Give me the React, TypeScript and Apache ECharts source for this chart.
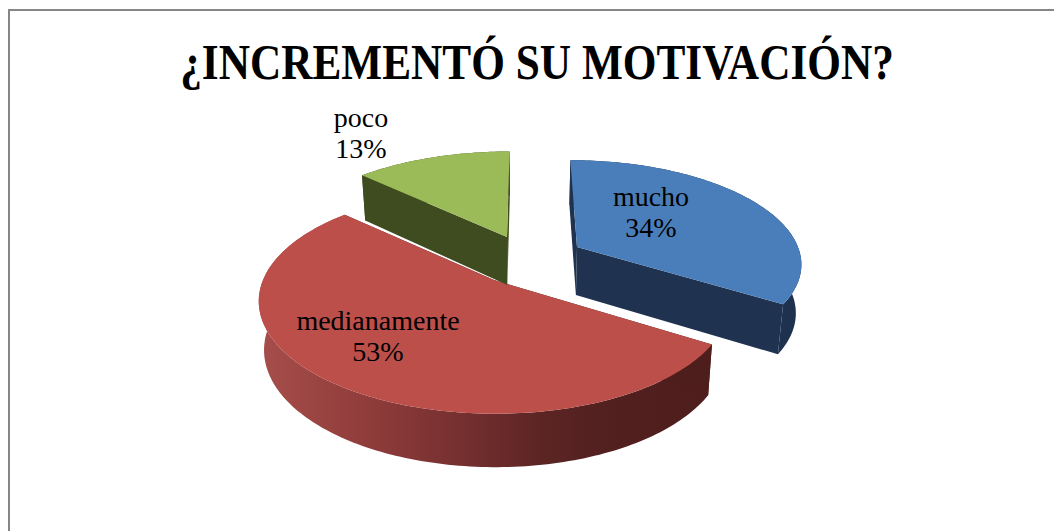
import React, { useEffect, useRef } from "react";
import * as echarts from "echarts";

const categories = ["mucho", "medianamente", "poco"];
const values = [34, 53, 13];
const titleText = "¿INCREMENTÓ SU MOTIVACIÓN?";

// Per-slice drawing parameters: exploded apex position, projected radii, perspective, colours
const sliceStyles = [
  { ax: 577, ay: 247, A: 221, B: 99, K: 0.14, VX: 523, top: "#4a7ebb", wall: "#1f3350", outer: "#1e3250", lx: 651, ly: 212 },
  { ax: 494, ay: 280, A: 231, B: 108, K: 0.1925, VX: 490, top: "#bd4f4b", wall: "#4e1e1d", outer: null, lx: 378, ly: 336 },
  { ax: 507, ay: 237, A: 228, B: 102, K: 0.1925, VX: 523, top: "#9bbb59", wall: "#3f4c1f", outer: "#3f4c1f", lx: 361, ly: 133 },
];
const CENTER_X = 523; // lower rim contracts toward this x
const DEPTH = 48; // wall height
const SHRINK = 0.98; // lower rim contraction

const total = values.reduce((a, b) => a + b, 0);

function renderSlice(params: any, api: any) {
  const i = params.dataIndex;
  const st = sliceStyles[i];
  let before = 0;
  for (let j = 0; j < i; j++) before += api.value(1, j);
  const value = api.value(1);
  const t0 = (before / total) * Math.PI * 2;
  const t1 = ((before + value) / total) * Math.PI * 2;

  const proj = (u: number, v: number) => {
    const s = 1 / (1 + st.K * v);
    return [st.VX + (st.ax - st.VX + st.A * u) * s, st.ay - st.B * v * s, s];
  };
  const topPt = (u: number, v: number) => {
    const p = proj(u, v);
    return [p[0], p[1]];
  };
  const botPt = (u: number, v: number) => {
    const p = proj(u, v);
    return [CENTER_X + (p[0] - CENTER_X) * SHRINK, p[1] + DEPTH * Math.sqrt(p[2])];
  };
  const steps = Math.max(8, Math.ceil((t1 - t0) / 0.02));
  const arcTop: number[][] = [];
  const arcBot: number[][] = [];
  for (let n = 0; n <= steps; n++) {
    const t = t0 + ((t1 - t0) * n) / steps;
    arcTop.push(topPt(Math.sin(t), Math.cos(t)));
    arcBot.push(botPt(Math.sin(t), Math.cos(t)));
  }
  const apexTop = topPt(0, 0);
  const apexBot = botPt(0, 0);
  const outerFill =
    st.outer ||
    new echarts.graphic.LinearGradient(0, 0, 1, 0, [
      { offset: 0, color: "#a64e4b" },
      { offset: 0.2, color: "#943f3d" },
      { offset: 0.45, color: "#752f2f" },
      { offset: 0.62, color: "#5c2524" },
      { offset: 0.8, color: "#501f1e" },
      { offset: 1, color: "#4e1e1d" },
    ]);
  const poly = (points: number[][], fill: any) => ({
    type: "polygon",
    shape: { points },
    style: { fill, stroke: null },
    silent: true,
  });
  return {
    type: "group",
    children: [
      poly([...arcTop, ...[...arcBot].reverse()], outerFill),
      poly([apexTop, arcTop[0], arcBot[0], apexBot], st.wall),
      poly([apexTop, arcTop[steps], arcBot[steps], apexBot], st.wall),
      poly([apexTop, ...arcTop], st.top),
      {
        type: "text",
        x: st.lx,
        y: st.ly,
        style: {
          text: `${categories[i]}\n${Math.round((value / total) * 100)}%`,
          fill: "#000000",
          font: '28px "Liberation Serif", serif',
          lineHeight: 31,
          align: "center",
          verticalAlign: "middle",
        },
      },
    ],
  };
}

export default function App() {
  const ref = useRef<HTMLDivElement>(null);
  useEffect(() => {
    const chart = echarts.init(ref.current!, null, { renderer: "svg" });
    chart.setOption({
      animation: false,
      backgroundColor: "#ffffff",
      graphic: [
        { type: "line", shape: { x1: 9, y1: 10, x2: 1054, y2: 10 }, style: { stroke: "#868686", lineWidth: 2 } },
        { type: "line", shape: { x1: 9, y1: 9, x2: 9, y2: 531 }, style: { stroke: "#868686", lineWidth: 2 } },
        {
          type: "text",
          x: 537,
          y: 62,
          scaleX: 0.866,
          style: {
            text: titleText,
            fill: "#000000",
            font: 'bold 50px "Liberation Serif", serif',
            align: "center",
            verticalAlign: "middle",
          },
        },
      ],
      series: [
        {
          type: "custom",
          coordinateSystem: "none",
          renderItem: renderSlice,
          data: categories.map((c, i) => [i, values[i]]),
          encode: { value: 1 },
        },
      ],
    });
    return () => chart.dispose();
  }, []);
  return <div ref={ref} style={{ position: "fixed", left: 0, top: 0, width: 1054, height: 531 }} />;
}
